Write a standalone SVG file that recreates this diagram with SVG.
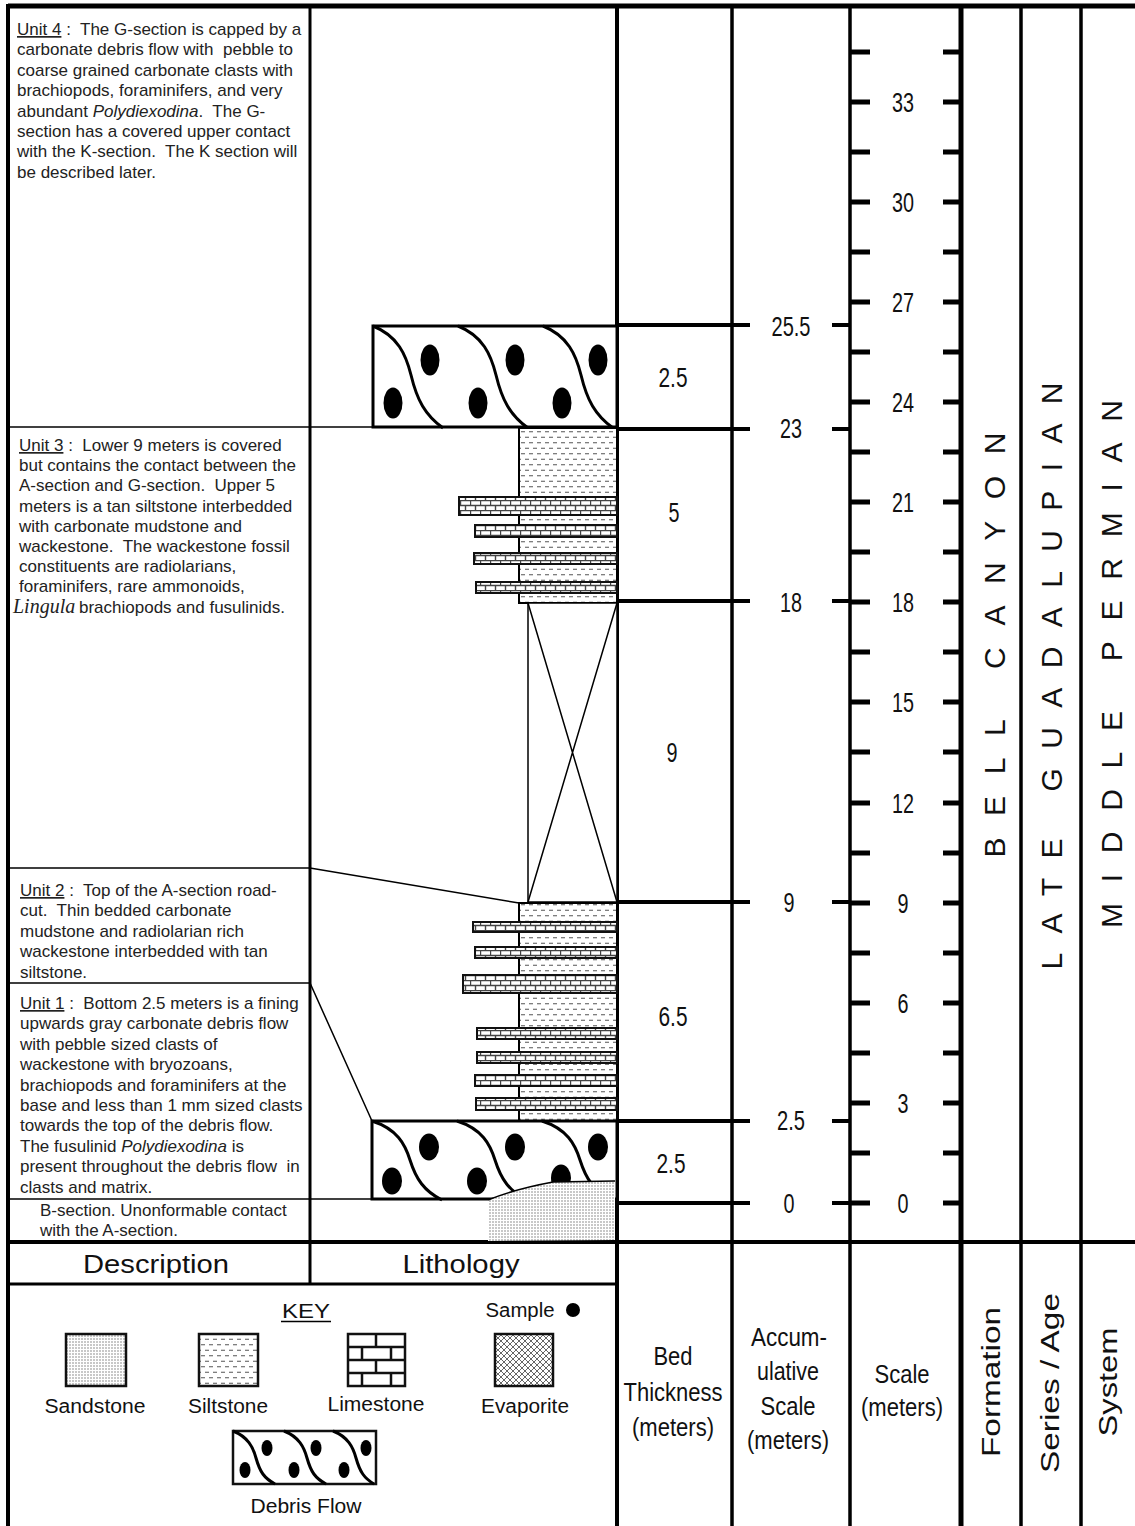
<svg xmlns="http://www.w3.org/2000/svg" width="1135" height="1526" viewBox="0 0 1135 1526">
<style>
.desc{font-family:"Liberation Sans",Arial,sans-serif;font-size:17px;fill:#222}
.num{font-family:"Liberation Sans Narrow","Liberation Sans",Arial,sans-serif;font-size:28px;fill:#111;text-anchor:middle}
.hdr{font-family:"Liberation Sans Narrow","Liberation Sans",Arial,sans-serif;font-size:26px;fill:#111;text-anchor:middle}
.big{font-family:"Liberation Sans",Arial,sans-serif;font-size:30px;fill:#111;text-anchor:middle}
.key{font-family:"Liberation Sans",Arial,sans-serif;font-size:20px;fill:#111;text-anchor:middle}
.thin{stroke:#000;stroke-width:1.5;fill:none}
.frame{stroke:#000;fill:none}
.box{stroke:#000;stroke-width:3;fill:#fff}
.wave{stroke:#000;stroke-width:3;fill:none}
.lime{fill:url(#lime);stroke:#111;stroke-width:2}
.silt{fill:url(#silt);stroke:#000;stroke-width:2}
</style>
<defs>
<pattern id="silt" width="8" height="11" patternUnits="userSpaceOnUse">
<rect width="8" height="11" fill="#fff"/>
<path d="M1,2.75h4M5,8.25h4M-3,8.25h4" stroke="#555" stroke-width="1.2"/>
</pattern>
<pattern id="lime" width="10" height="10" patternUnits="userSpaceOnUse">
<rect width="10" height="10" fill="#fff"/>
<path d="M0,0.5H10M0,5.5H10M0.5,0V5.5M5.5,5.5V10" stroke="#444" stroke-width="1.4"/>
</pattern>
<pattern id="sand" width="3" height="3" patternUnits="userSpaceOnUse">
<rect width="3" height="3" fill="#fff"/>
<circle cx="1" cy="1" r="0.7" fill="#666"/>
</pattern>
<pattern id="evap" width="6" height="6" patternUnits="userSpaceOnUse">
<rect width="6" height="6" fill="#fff"/>
<path d="M0,0L6,6M6,0L0,6" stroke="#555" stroke-width="0.9"/>
</pattern>
</defs>
<rect width="1135" height="1526" fill="#fff"/>

<g id="frame">
<path class="frame" stroke-width="5" d="M8,6H1135"/>
<path class="frame" stroke-width="4" d="M8,4V1526"/>
<path class="frame" stroke-width="3" d="M310,6V1284"/>
<path class="frame" stroke-width="4" d="M617,6V1526"/>
<path class="frame" stroke-width="3.5" d="M732,6V1526"/>
<path class="frame" stroke-width="3.5" d="M850,6V1526"/>
<path class="frame" stroke-width="5" d="M961,6V1526"/>
<path class="frame" stroke-width="3.5" d="M1021,6V1526"/>
<path class="frame" stroke-width="3.5" d="M1081,6V1526"/>
<path class="frame" stroke-width="4" d="M8,1242H1135"/>
<path class="frame" stroke-width="3" d="M8,1284H617"/>
</g>

<g id="connectors">
<path class="thin" d="M8,427H373"/>
<path class="thin" d="M8,868H310L519,903"/>
<path class="thin" d="M8,983H310L372,1121"/>
<path class="thin" d="M8,1199H372"/>
</g>

<g id="bed-lines">
<path class="frame" stroke-width="4" d="M617,325H750M617,429H750M617,601H750M617,902H750M617,1121H750M617,1203H750"/>
<path class="frame" stroke-width="4" d="M832,325H850M832,429H850M832,601H850M832,902H850M832,1121H850M832,1203H850"/>
</g>

<g id="scale-ticks">
<path class="frame" stroke-width="5" d="M850,1203H870M943,1203H961M850,1153H870M943,1153H961M850,1103H870M943,1103H961M850,1053H870M943,1053H961M850,1003H870M943,1003H961M850,953H870M943,953H961M850,903H870M943,903H961M850,853H870M943,853H961M850,803H870M943,803H961M850,752H870M943,752H961M850,702H870M943,702H961M850,652H870M943,652H961M850,602H870M943,602H961M850,552H870M943,552H961M850,502H870M943,502H961M850,452H870M943,452H961M850,402H870M943,402H961M850,352H870M943,352H961M850,302H870M943,302H961M850,252H870M943,252H961M850,202H870M943,202H961M850,152H870M943,152H961M850,102H870M943,102H961M850,52H870M943,52H961"/>
</g>

<g id="scale-labels">
<text class="num" x="903" y="1213" textLength="11" lengthAdjust="spacingAndGlyphs">0</text>
<text class="num" x="903" y="1113" textLength="11" lengthAdjust="spacingAndGlyphs">3</text>
<text class="num" x="903" y="1013" textLength="11" lengthAdjust="spacingAndGlyphs">6</text>
<text class="num" x="903" y="913" textLength="11" lengthAdjust="spacingAndGlyphs">9</text>
<text class="num" x="903" y="813" textLength="22" lengthAdjust="spacingAndGlyphs">12</text>
<text class="num" x="903" y="712" textLength="22" lengthAdjust="spacingAndGlyphs">15</text>
<text class="num" x="903" y="612" textLength="22" lengthAdjust="spacingAndGlyphs">18</text>
<text class="num" x="903" y="512" textLength="22" lengthAdjust="spacingAndGlyphs">21</text>
<text class="num" x="903" y="412" textLength="22" lengthAdjust="spacingAndGlyphs">24</text>
<text class="num" x="903" y="312" textLength="22" lengthAdjust="spacingAndGlyphs">27</text>
<text class="num" x="903" y="212" textLength="22" lengthAdjust="spacingAndGlyphs">30</text>
<text class="num" x="903" y="112" textLength="22" lengthAdjust="spacingAndGlyphs">33</text>
</g>

<g id="accum-labels">
<text class="num" x="791" y="336" textLength="39" lengthAdjust="spacingAndGlyphs">25.5</text>
<text class="num" x="791" y="438" textLength="22" lengthAdjust="spacingAndGlyphs">23</text>
<text class="num" x="791" y="612" textLength="22" lengthAdjust="spacingAndGlyphs">18</text>
<text class="num" x="789" y="912" textLength="11" lengthAdjust="spacingAndGlyphs">9</text>
<text class="num" x="791" y="1130" textLength="28" lengthAdjust="spacingAndGlyphs">2.5</text>
<text class="num" x="789" y="1213" textLength="11" lengthAdjust="spacingAndGlyphs">0</text>
</g>

<g id="bed-thickness-labels">
<text class="num" x="673" y="387" textLength="29" lengthAdjust="spacingAndGlyphs">2.5</text>
<text class="num" x="674" y="522" textLength="11" lengthAdjust="spacingAndGlyphs">5</text>
<text class="num" x="672" y="762" textLength="11" lengthAdjust="spacingAndGlyphs">9</text>
<text class="num" x="673" y="1026" textLength="29" lengthAdjust="spacingAndGlyphs">6.5</text>
<text class="num" x="671" y="1173" textLength="29" lengthAdjust="spacingAndGlyphs">2.5</text>
</g>

<g id="unit4-debris">
<rect class="box" x="373" y="326" width="244" height="101"/>
<path class="wave" d="M373,326C398,336 406,355 411,375C417,400 425,415 443,428M458,326C483,336 491,355 496,375C502,400 510,415 528,428M543,326C568,336 576,355 581,375C587,400 595,415 613,428"/>
<ellipse cx="430" cy="360" rx="9.5" ry="15.5"/>
<ellipse cx="515" cy="360" rx="9.5" ry="15.5"/>
<ellipse cx="598" cy="360" rx="9.5" ry="15.5"/>
<ellipse cx="393" cy="403" rx="9.5" ry="15.5"/>
<ellipse cx="478" cy="403" rx="9.5" ry="15.5"/>
<ellipse cx="562" cy="403" rx="9.5" ry="15.5"/>
</g>

<g id="unit3-litho">
<rect class="silt" x="519" y="428" width="98" height="175"/>
<rect class="lime" x="459" y="497" width="158" height="18"/>
<rect class="lime" x="475" y="525" width="142" height="12"/>
<rect class="lime" x="474" y="553" width="143" height="11"/>
<rect class="lime" x="476" y="582" width="141" height="11"/>
<rect x="528" y="603" width="89" height="299" fill="#fff" stroke="#000" stroke-width="1.5"/>
<path class="thin" d="M528,603L617,902M617,603L528,902"/>
</g>

<g id="unit2-litho">
<rect class="silt" x="519" y="903" width="98" height="218"/>
<rect class="lime" x="473" y="922" width="144" height="10"/>
<rect class="lime" x="475" y="947" width="142" height="11"/>
<rect class="lime" x="463" y="975" width="154" height="18"/>
<rect class="lime" x="477" y="1028" width="140" height="11"/>
<rect class="lime" x="477" y="1052" width="140" height="11"/>
<rect class="lime" x="475" y="1075" width="142" height="11"/>
<rect class="lime" x="476" y="1098" width="141" height="12"/>
</g>

<g id="unit1-debris">
<rect class="box" x="372" y="1121" width="245" height="78"/>
<path class="wave" d="M372,1121C397,1129 405,1144 410,1160C416,1179 424,1191 442,1200M457,1121C482,1129 490,1144 495,1160C501,1179 509,1191 527,1200M542,1121C567,1129 575,1144 580,1160C586,1179 594,1191 612,1200"/>
<ellipse cx="429" cy="1147" rx="10" ry="13.5"/>
<ellipse cx="515" cy="1147" rx="10" ry="13.5"/>
<ellipse cx="598" cy="1147" rx="10" ry="13.5"/>
<ellipse cx="392" cy="1181" rx="10" ry="13.5"/>
<ellipse cx="477" cy="1181" rx="10" ry="13.5"/>
<ellipse cx="561" cy="1178" rx="10" ry="13.5"/>
</g>

<g id="b-section-litho">
<path d="M488,1241V1200Q515,1189 553,1182L615,1181V1240Z" fill="url(#sand)"/>
<path class="thin" d="M488,1200Q515,1189 553,1182L615,1181"/>
</g>

<g id="unit4-desc">
<text class="desc" x="17" y="35" xml:space="preserve"><tspan text-decoration="underline">Unit 4</tspan> :  The G-section is capped by a</text>
<text class="desc" x="17" y="55.4" xml:space="preserve">carbonate debris flow with  pebble to</text>
<text class="desc" x="17" y="75.8">coarse grained carbonate clasts with</text>
<text class="desc" x="17" y="96.2">brachiopods, foraminifers, and very</text>
<text class="desc" x="17" y="116.6" xml:space="preserve">abundant <tspan font-style="italic">Polydiexodina</tspan>.  The G-</text>
<text class="desc" x="17" y="137">section has a covered upper contact</text>
<text class="desc" x="17" y="157.4" xml:space="preserve">with the K-section.  The K section will</text>
<text class="desc" x="17" y="177.8">be described later.</text>
</g>

<g id="unit3-desc">
<text class="desc" x="19" y="451" xml:space="preserve"><tspan text-decoration="underline">Unit 3</tspan> :  Lower 9 meters is covered</text>
<text class="desc" x="19" y="471.2">but contains the contact between the</text>
<text class="desc" x="19" y="491.4" xml:space="preserve">A-section and G-section.  Upper 5</text>
<text class="desc" x="19" y="511.6">meters is a tan siltstone interbedded</text>
<text class="desc" x="19" y="531.8">with carbonate mudstone and</text>
<text class="desc" x="19" y="552" xml:space="preserve">wackestone.  The wackestone fossil</text>
<text class="desc" x="19" y="572.2">constituents are radiolarians,</text>
<text class="desc" x="19" y="592.4">foraminifers, rare ammonoids,</text>
<text class="desc" x="13" y="612.6"><tspan font-family="'Liberation Serif','Times New Roman',serif" font-style="italic" font-size="20">Lingula</tspan><tspan x="79">brachiopods and fusulinids.</tspan></text>
</g>

<g id="unit2-desc">
<text class="desc" x="20" y="896" xml:space="preserve"><tspan text-decoration="underline">Unit 2</tspan> :  Top of the A-section road-</text>
<text class="desc" x="20" y="916.4" xml:space="preserve">cut.  Thin bedded carbonate</text>
<text class="desc" x="20" y="936.8">mudstone and radiolarian rich</text>
<text class="desc" x="20" y="957.2">wackestone interbedded with tan</text>
<text class="desc" x="20" y="977.6">siltstone.</text>
</g>

<g id="unit1-desc">
<text class="desc" x="20" y="1009" xml:space="preserve"><tspan text-decoration="underline">Unit 1</tspan> :  Bottom 2.5 meters is a fining</text>
<text class="desc" x="20" y="1029.4">upwards gray carbonate debris flow</text>
<text class="desc" x="20" y="1049.8">with pebble sized clasts of</text>
<text class="desc" x="20" y="1070.2">wackestone with bryozoans,</text>
<text class="desc" x="20" y="1090.6">brachiopods and foraminifers at the</text>
<text class="desc" x="20" y="1111">base and less than 1 mm sized clasts</text>
<text class="desc" x="20" y="1131.4">towards the top of the debris flow.</text>
<text class="desc" x="20" y="1151.8">The fusulinid <tspan font-style="italic">Polydiexodina</tspan> is</text>
<text class="desc" x="20" y="1172.2" xml:space="preserve">present throughout the debris flow  in</text>
<text class="desc" x="20" y="1192.6">clasts and matrix.</text>
</g>

<g id="bsection-desc">
<text class="desc" x="40" y="1216">B-section. Unonformable contact</text>
<text class="desc" x="40" y="1236">with the A-section.</text>
</g>

<g id="formation">
<text class="big" transform="translate(1005,645) rotate(-90)" textLength="425" lengthAdjust="spacing">BELL CANYON</text>
</g>
<g id="series">
<text class="big" transform="translate(1062,676) rotate(-90)" textLength="587" lengthAdjust="spacing">LATE GUADALUPIAN</text>
</g>
<g id="system">
<text class="big" transform="translate(1122,664) rotate(-90)" textLength="528" lengthAdjust="spacing">MIDDLE PERMIAN</text>
</g>

<g id="headers">
<text class="hdr" x="156" y="1273" textLength="146" lengthAdjust="spacingAndGlyphs">Description</text>
<text class="hdr" x="461" y="1273" textLength="117" lengthAdjust="spacingAndGlyphs">Lithology</text>
<text class="hdr" x="673" y="1365" textLength="39" lengthAdjust="spacingAndGlyphs">Bed</text>
<text class="hdr" x="673" y="1401" textLength="99" lengthAdjust="spacingAndGlyphs">Thickness</text>
<text class="hdr" x="673" y="1436" textLength="82" lengthAdjust="spacingAndGlyphs">(meters)</text>
<text class="hdr" x="789" y="1346" textLength="76" lengthAdjust="spacingAndGlyphs">Accum-</text>
<text class="hdr" x="788" y="1380" textLength="62" lengthAdjust="spacingAndGlyphs">ulative</text>
<text class="hdr" x="788" y="1415" textLength="55" lengthAdjust="spacingAndGlyphs">Scale</text>
<text class="hdr" x="788" y="1449" textLength="82" lengthAdjust="spacingAndGlyphs">(meters)</text>
<text class="hdr" x="902" y="1383" textLength="55" lengthAdjust="spacingAndGlyphs">Scale</text>
<text class="hdr" x="902" y="1416" textLength="82" lengthAdjust="spacingAndGlyphs">(meters)</text>
<text class="hdr" transform="translate(1000,1382) rotate(-90)" textLength="150" lengthAdjust="spacingAndGlyphs">Formation</text>
<text class="hdr" transform="translate(1059,1383) rotate(-90)" textLength="180" lengthAdjust="spacingAndGlyphs">Series / Age</text>
<text class="hdr" transform="translate(1117,1382) rotate(-90)" textLength="109" lengthAdjust="spacingAndGlyphs">System</text>
</g>

<g id="key">
<text class="key" x="306" y="1318" font-size="22" textLength="48" lengthAdjust="spacingAndGlyphs">KEY</text>
<path class="thin" d="M281,1321.5H331"/>
<text class="key" x="520" y="1317" textLength="69" lengthAdjust="spacingAndGlyphs">Sample</text>
<circle cx="573" cy="1310" r="7" fill="#000"/>
<g id="key-sandstone">
<rect x="66" y="1334" width="60" height="52" fill="url(#sand)" stroke="#111" stroke-width="2.5"/>
<text class="key" x="95" y="1413" textLength="101" lengthAdjust="spacingAndGlyphs">Sandstone</text>
</g>
<g id="key-siltstone">
<rect x="199" y="1334" width="59" height="52" fill="url(#silt)" stroke="#111" stroke-width="2.5"/>
<text class="key" x="228" y="1413" textLength="80" lengthAdjust="spacingAndGlyphs">Siltstone</text>
</g>
<g id="key-limestone">
<rect x="348" y="1334" width="57" height="52" fill="#fff" stroke="#111" stroke-width="2.5"/>
<path stroke="#111" stroke-width="2.5" fill="none" d="M348,1347H405M348,1360H405M348,1373H405M376,1334V1347M362,1347V1360M391,1347V1360M376,1360V1373M362,1373V1386M391,1373V1386"/>
<text class="key" x="376" y="1411" textLength="97" lengthAdjust="spacingAndGlyphs">Limestone</text>
</g>
<g id="key-evaporite">
<rect x="495" y="1334" width="58" height="52" fill="url(#evap)" stroke="#111" stroke-width="2.5"/>
<text class="key" x="525" y="1413" textLength="88" lengthAdjust="spacingAndGlyphs">Evaporite</text>
</g>
<g id="key-debris">
<rect x="233" y="1431" width="143" height="53" fill="#fff" stroke="#111" stroke-width="2.5"/>
<path class="wave" stroke-width="2.5" d="M233,1431C248,1437 253,1447 256,1458C260,1472 264,1478 275,1484M284,1431C299,1437 304,1447 307,1458C311,1472 315,1478 326,1484M333,1431C348,1437 353,1447 356,1458C360,1472 364,1478 374,1484"/>
<ellipse cx="267" cy="1448" rx="5.5" ry="8"/>
<ellipse cx="316" cy="1448" rx="5.5" ry="8"/>
<ellipse cx="366" cy="1448" rx="5.5" ry="8"/>
<ellipse cx="245" cy="1470" rx="5.5" ry="8"/>
<ellipse cx="294" cy="1470" rx="5.5" ry="8"/>
<ellipse cx="344" cy="1470" rx="5.5" ry="8"/>
<text class="key" x="306" y="1513" textLength="111" lengthAdjust="spacingAndGlyphs">Debris Flow</text>
</g>
</g>
</svg>
